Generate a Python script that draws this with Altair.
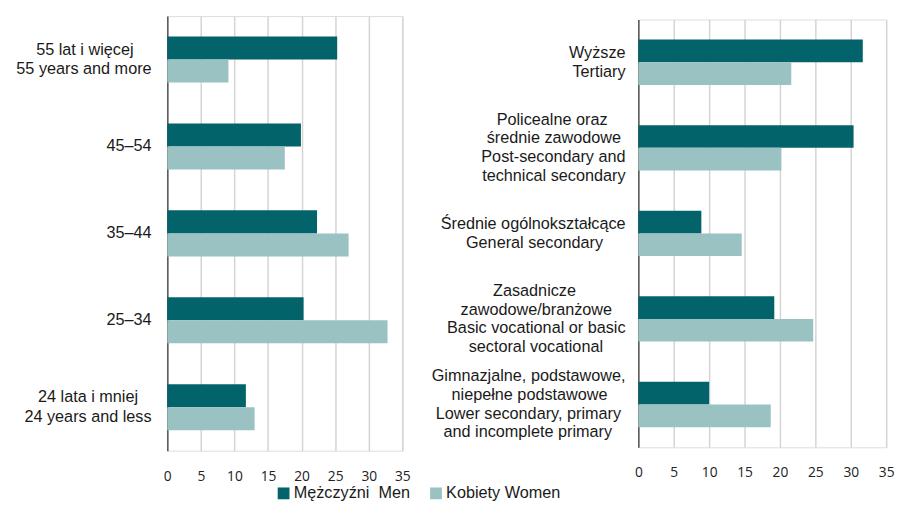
import altair as alt
import pandas as pd

# ---- data ----
age_groups = ["55 lat i więcej|55 years and more", "45–54", "35–44", "25–34",
              "24 lata i mniej|24 years and less"]
age_men = [25.3, 19.9, 22.3, 20.3, 11.7]
age_women = [9.1, 17.5, 27.0, 32.8, 13.0]

edu_groups = ["Wyższe|Tertiary",
              "Policealne oraz|średnie zawodowe|Post-secondary and|technical secondary",
              "Średnie ogólnokształcące|General secondary",
              "Zasadnicze|zawodowe/branżowe|Basic vocational or basic|sectoral vocational",
              "Gimnazjalne, podstawowe,|niepełne podstawowe|Lower secondary, primary|and incomplete primary"]
edu_men = [31.7, 30.4, 8.9, 19.2, 10.0]
edu_women = [21.6, 20.2, 14.6, 24.7, 18.7]

series = ["Mężczyźni\u00a0 Men", "Kobiety Women"]
colors = ["#03636a", "#9bc2c3"]
x_ticks = [0, 5, 10, 15, 20, 25, 30, 35]

PAD_INNER = 0.47

# ---- helper: centre lines of a multi-line label inside its right-aligned block ----
_W = {" ": 278, ",": 278, "-": 333, "/": 278, "–": 556,
      "a": 556, "b": 556, "c": 500, "d": 556, "e": 556, "f": 278, "g": 556, "h": 556,
      "i": 222, "j": 222, "k": 500, "l": 222, "m": 833, "n": 556, "o": 556, "p": 556,
      "q": 556, "r": 333, "s": 500, "t": 278, "u": 556, "v": 500, "w": 722, "x": 500,
      "y": 500, "z": 500,
      "A": 667, "B": 667, "C": 722, "D": 722, "E": 667, "F": 611, "G": 778, "H": 722,
      "I": 278, "J": 500, "K": 667, "L": 556, "M": 833, "N": 722, "O": 778, "P": 667,
      "Q": 778, "R": 722, "S": 667, "T": 611, "U": 722, "V": 667, "W": 944, "X": 667,
      "Y": 667, "Z": 611}
_BASE = {"ą": "a", "ć": "c", "ę": "e", "ł": "l", "ń": "n", "ó": "o", "ś": "s",
         "ź": "z", "ż": "z", "Ś": "S", "Ż": "Z"}


def _width(s):
    return sum(_W.get(_BASE.get(ch, ch), 556) for ch in s)


def label_rows(groups, lh, half_band):
    """One row per label line: centred in its block (NBSP padding), block centred on band."""
    rows = []
    for g in groups:
        lines = g.split("|")
        m = max(_width(l) for l in lines)
        n_lines = len(lines)
        for i, l in enumerate(lines):
            n = int(round((m - _width(l)) / 2 / 278))
            txt = l + ("\u00a0" * n + "\u2060" if n > 0 else "")
            rows.append({"group": g, "line": txt,
                         "off": half_band + (i - (n_lines - 1) / 2) * lh})
    return pd.DataFrame(rows)


def panel(groups, men, women, w, h, extent, pad, lh, show_legend):
    rows = []
    for g, m, wv in zip(groups, men, women):
        rows.append({"group": g, "series": series[0], "value": m})
        rows.append({"group": g, "series": series[1], "value": wv})
    df = pd.DataFrame(rows)
    if show_legend:
        legend = alt.Legend(title=None, orient="none", direction="horizontal",
                            legendX=110, legendY=477, symbolType="square",
                            symbolSize=144, symbolStrokeWidth=0,
                            labelFont="Liberation Sans", labelFontSize=16.5,
                            labelColor="#1a1a1a", labelOffset=2,
                            columnPadding=18, padding=0)
    else:
        legend = None
    ysc = alt.Scale(domain=groups, paddingInner=PAD_INNER, paddingOuter=PAD_INNER / 2)
    half_band = h / len(groups) * (1 - PAD_INNER) / 2
    color = alt.Color("series:N", sort=series,
                      scale=alt.Scale(domain=series, range=colors), legend=legend)
    bars = alt.Chart(df).mark_bar().encode(
        x=alt.X("value:Q", scale=alt.Scale(domain=[0, 35], nice=False, zero=True),
                axis=alt.Axis(values=x_ticks, title=None, grid=True, gridColor="#d4d4d4",
                              gridWidth=1.5, domain=False, ticks=False, labelPadding=19,
                              labelFlush=False,
                              labelFont="Open Sans", labelFontSize=14, labelColor="#222222")),
        y=alt.Y("group:N", sort=groups, scale=ysc,
                axis=alt.Axis(title=None, labels=False, minExtent=extent, maxExtent=extent,
                              ticks=False, domain=True, domainColor="#555555",
                              domainWidth=1.5, grid=False)),
        yOffset=alt.YOffset("series:N", sort=series),
        color=color,
    )
    labels = alt.Chart(label_rows(groups, lh, half_band)).mark_text(
        align="right", baseline="middle", font="Liberation Sans", fontSize=16.5,
        color="#1a1a1a"
    ).encode(
        x=alt.value(-pad),
        y=alt.Y("group:N", sort=groups, scale=ysc),
        yOffset=alt.YOffset("off:Q", scale=None),
        text="line:N",
    )
    return alt.layer(bars, labels).resolve_scale(yOffset="independent").properties(
        width=w, height=h)


left = panel(age_groups, age_men, age_women, 239, 442, 159, 16, 20, True)
right = panel(edu_groups, edu_men, edu_women, 252, 435, 214, 13, 19, False)

chart = alt.hconcat(left, right, spacing=240, bounds="flush", center=True).properties(
    padding={"left": 2, "top": 3, "right": 0, "bottom": 0}
).configure_view(stroke=None).configure(background="white")

chart.save("out.html", embed_options={"renderer": "svg", "actions": False})
